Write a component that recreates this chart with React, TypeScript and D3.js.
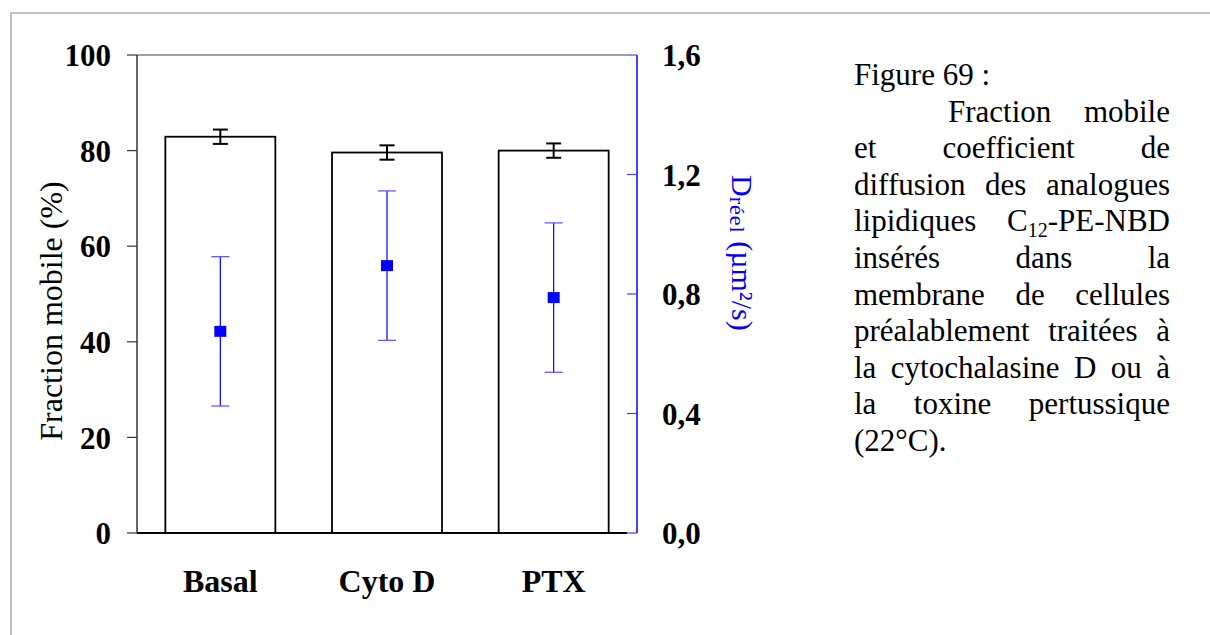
import React, { useEffect, useRef } from 'react';
import * as d3 from 'd3';

// Data
const categories = ['Basal', 'Cyto D', 'PTX'];
const fractionMobile = [82.9, 79.6, 80.0];
const fractionErr = [1.5, 1.5, 1.5];
const dReel = [0.675, 0.895, 0.788];
const dReelErr = [0.25, 0.25, 0.25];
const leftTicks = [0, 20, 40, 60, 80, 100];
const rightTicks = [0, 0.4, 0.8, 1.2, 1.6];

type Piece = { t: string; sub?: boolean };
type CaptionLine = { words: Piece[][]; justify: boolean; indent?: number };

const w = (s: string): Piece[] => [{ t: s }];
const captionLines: CaptionLine[] = [
  { words: [w('Figure 69 :')], justify: false },
  { words: [w('Fraction'), w('mobile')], justify: true, indent: 94 },
  { words: [w('et'), w('coefficient'), w('de')], justify: true },
  { words: [w('diffusion'), w('des'), w('analogues')], justify: true },
  { words: [w('lipidiques'), [{ t: 'C' }, { t: '12', sub: true }, { t: '-PE-NBD' }]], justify: true },
  { words: [w('insérés'), w('dans'), w('la')], justify: true },
  { words: [w('membrane'), w('de'), w('cellules')], justify: true },
  { words: [w('préalablement'), w('traitées'), w('à')], justify: true },
  { words: [w('la'), w('cytochalasine'), w('D'), w('ou'), w('à')], justify: true },
  { words: [w('la'), w('toxine'), w('pertussique')], justify: true },
  { words: [w('(22°C).')], justify: false },
];

const App: React.FC = () => {
  const svgRef = useRef<SVGSVGElement>(null);
  const width = 1210;
  const height = 635;

  useEffect(() => {
    if (!svgRef.current) return;
    const svg = d3.select(svgRef.current);
    svg.selectAll('*').remove();

    const serif = '"Liberation Serif", "Times New Roman", serif';
    const margin = { top: 55, left: 137, right: 637, bottom: 533 };

    // outer frame (top + left only)
    svg.append('line').attr('x1', 11).attr('x2', width).attr('y1', 13).attr('y2', 13)
      .style('stroke', '#c0c0c0').style('stroke-width', 2);
    svg.append('line').attr('x1', 11).attr('x2', 11).attr('y1', 12).attr('y2', height)
      .style('stroke', '#c0c0c0').style('stroke-width', 2);

    const x = d3.scaleBand<string>()
      .domain(categories)
      .range([margin.left, margin.right])
      .paddingInner(0.34)
      .paddingOuter(0.17);
    const yL = d3.scaleLinear().domain([0, 100]).range([margin.bottom, margin.top]);
    const yR = d3.scaleLinear().domain([0, 1.6]).range([margin.bottom, margin.top]);

    // plot top border
    svg.append('line').attr('x1', margin.left).attr('x2', margin.right - 10)
      .attr('y1', margin.top).attr('y2', margin.top)
      .style('stroke', '#808080').style('stroke-width', 1.5);

    // left axis
    svg.append('line').attr('x1', margin.left).attr('x2', margin.left)
      .attr('y1', margin.top).attr('y2', margin.bottom)
      .style('stroke', '#000').style('stroke-width', 1.2);
    leftTicks.forEach(t => {
      svg.append('line').attr('x1', margin.left - 10).attr('x2', margin.left)
        .attr('y1', yL(t)).attr('y2', yL(t))
        .style('stroke', '#333').style('stroke-width', 1.2);
      svg.append('text').attr('x', 111).attr('y', yL(t)).attr('dy', '0.36em')
        .style('text-anchor', 'end').style('font-family', serif)
        .style('font-size', '31px').style('font-weight', 'bold').text(String(t));
    });

    // bars
    svg.selectAll('.bar').data(categories).enter().append('rect')
      .attr('class', 'bar')
      .attr('x', d => x(d)!)
      .attr('y', (_, i) => yL(fractionMobile[i]))
      .attr('width', x.bandwidth())
      .attr('height', (_, i) => margin.bottom - yL(fractionMobile[i]))
      .style('fill', '#fff').style('stroke', '#000').style('stroke-width', 1.8);

    // bottom axis
    svg.append('line').attr('x1', margin.left).attr('x2', margin.right - 10)
      .attr('y1', margin.bottom).attr('y2', margin.bottom)
      .style('stroke', '#000').style('stroke-width', 2);

    // black error bars
    categories.forEach((c, i) => {
      const cx = x(c)! + x.bandwidth() / 2;
      const hi = yL(fractionMobile[i] + fractionErr[i]);
      const lo = yL(fractionMobile[i] - fractionErr[i]);
      const g = svg.append('g').style('stroke', '#000').style('stroke-width', 2);
      g.append('line').attr('x1', cx).attr('x2', cx).attr('y1', hi).attr('y2', lo);
      g.append('line').attr('x1', cx - 7.5).attr('x2', cx + 7.5).attr('y1', hi).attr('y2', hi);
      g.append('line').attr('x1', cx - 7.5).attr('x2', cx + 7.5).attr('y1', lo).attr('y2', lo);
    });

    // right axis (blue)
    svg.append('line').attr('x1', margin.right).attr('x2', margin.right)
      .attr('y1', margin.top).attr('y2', margin.bottom)
      .style('stroke', '#0000ff').style('stroke-width', 1.5);
    const fmt = d3.format('.1f');
    rightTicks.forEach(t => {
      svg.append('line').attr('x1', margin.right - 10).attr('x2', margin.right)
        .attr('y1', yR(t)).attr('y2', yR(t))
        .style('stroke', '#4040ff').style('stroke-width', 1.2);
      svg.append('text').attr('x', 662).attr('y', yR(t)).attr('dy', '0.36em')
        .style('text-anchor', 'start').style('font-family', serif)
        .style('font-size', '31px').style('font-weight', 'bold')
        .text(fmt(t).replace('.', ','));
    });

    // blue D points with error bars
    categories.forEach((c, i) => {
      const cx = x(c)! + x.bandwidth() / 2;
      const cy = yR(dReel[i]);
      const hi = yR(dReel[i] + dReelErr[i]);
      const lo = yR(dReel[i] - dReelErr[i]);
      const g = svg.append('g').style('stroke', '#0000ff').style('stroke-width', 1.2);
      g.append('line').attr('x1', cx).attr('x2', cx).attr('y1', hi).attr('y2', lo);
      g.append('line').attr('x1', cx - 9).attr('x2', cx + 9).attr('y1', hi).attr('y2', hi)
        .style('stroke', '#5050ff');
      g.append('line').attr('x1', cx - 9).attr('x2', cx + 9).attr('y1', lo).attr('y2', lo)
        .style('stroke', '#5050ff');
      svg.append('rect').attr('x', cx - 6).attr('y', cy - 5.5).attr('width', 12).attr('height', 11)
        .style('fill', '#0000ff');
    });

    // x labels
    categories.forEach(c => {
      svg.append('text').attr('x', x(c)! + x.bandwidth() / 2).attr('y', 592)
        .style('text-anchor', 'middle').style('font-family', serif)
        .style('font-size', '32px').style('font-weight', 'bold').text(c);
    });

    // left y label
    svg.append('text')
      .attr('transform', `translate(62, 311) rotate(-90)`)
      .style('text-anchor', 'middle').style('font-family', serif)
      .style('font-size', '32px').text('Fraction mobile (%)');

    // right y label
    const rl = svg.append('text')
      .attr('transform', `translate(732, 175) rotate(90)`)
      .style('text-anchor', 'start').style('font-family', serif)
      .style('font-size', '30px').style('fill', '#0000ff');
    rl.append('tspan').text('D');
    rl.append('tspan').attr('dy', 2).style('font-size', '22px').style('letter-spacing', '1px').text('réel');
    rl.append('tspan').attr('dy', -2).text(' (µm²/s)');

    // caption, justified
    const capLeft = 854;
    const capRight = 1170;
    const lineH = 36.6;
    const capTop = 85;
    const cap = svg.append('g').style('font-family', serif).style('font-size', '31px').style('fill', '#000');
    captionLines.forEach((line, li) => {
      const y = capTop + li * lineH;
      const left = capLeft + (line.indent || 0);
      const nodes = line.words.map(pieces => {
        const t = cap.append('text').attr('y', y);
        pieces.forEach(p => {
          const ts = t.append('tspan').text(p.t);
          if (p.sub) ts.attr('dy', 6).style('font-size', '20px');
          else if (pieces.length > 1) ts.attr('dy', 0);
        });
        // reset baseline after subscript
        let prevSub = false;
        t.selectAll<SVGTSpanElement, unknown>('tspan').each(function (_, k) {
          const p = pieces[k];
          if (!p.sub && prevSub) d3.select(this).attr('dy', -6);
          prevSub = !!p.sub;
        });
        const node = t.node() as SVGTextElement;
        return { t, wdt: node.getComputedTextLength() };
      });
      if (line.justify && nodes.length > 1) {
        const total = d3.sum(nodes, n => n.wdt);
        const gap = (capRight - left - total) / (nodes.length - 1);
        let cx = left;
        nodes.forEach(n => {
          n.t.attr('x', cx);
          cx += n.wdt + gap;
        });
      } else {
        let cx = left;
        nodes.forEach(n => {
          n.t.attr('x', cx);
          cx += n.wdt + 7.75;
        });
      }
    });
  }, []);

  return (
    <svg
      ref={svgRef}
      width={width}
      height={height}
      style={{ position: 'absolute', left: 0, top: 0, background: '#fff' }}
    />
  );
};

export default App;
